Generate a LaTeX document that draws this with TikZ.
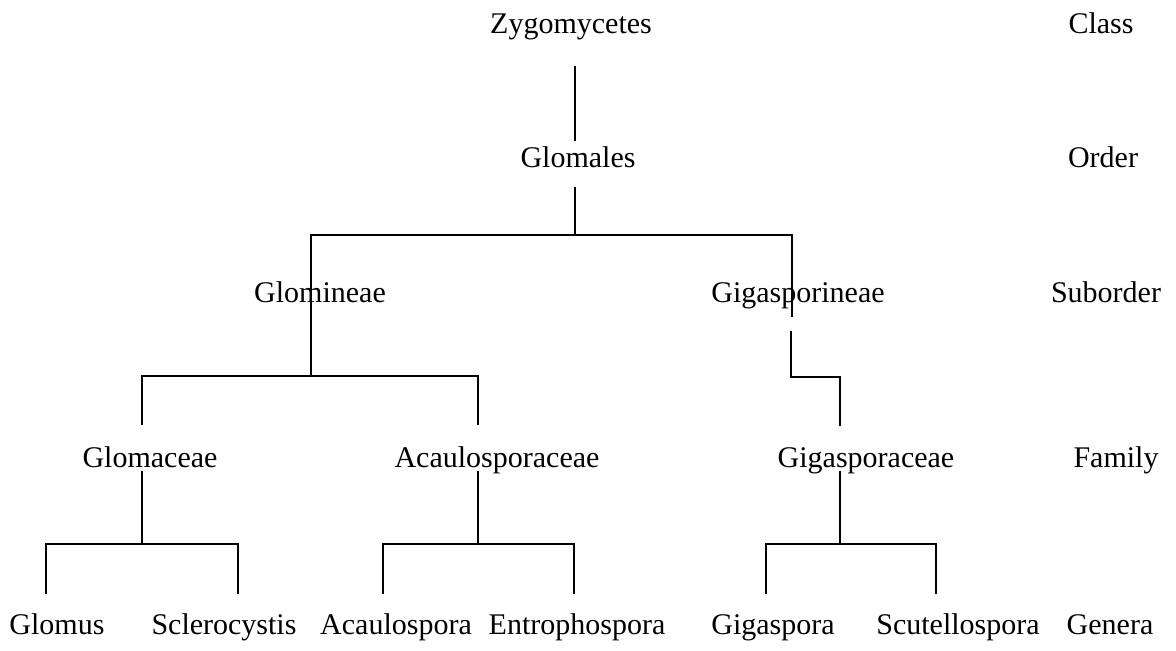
\documentclass[tikz,border=0pt]{standalone}
\usepackage{fontspec}
\setmainfont{Liberation Serif}
\usepackage{tikz}
\newcommand{\taxfont}{\fontsize{15}{18}\selectfont}
\tikzstyle{taxon} = [anchor=base, inner sep=0pt, font=\taxfont]
\tikzstyle{rank} = [anchor=base, inner sep=0pt, font=\taxfont]
\tikzstyle{branch} = [line width=0.9pt, line cap=rect]

\begin{document}
\begin{tikzpicture}[x=0.5pt, y=0.5pt]
\useasboundingbox (0,0) rectangle (1176,650);
% taxa
\node (zygo) [taxon] at (571,617) {Zygomycetes};
\node (glomales) [taxon] at (578,483) {Glomales};
\node (glomineae) [taxon] at (320,348) {Glomineae};
\node (gigasporineae) [taxon] at (798,348) {Gigasporineae};
\node (glomaceae) [taxon] at (150,183) {Glomaceae};
\node (acaulosporaceae) [taxon] at (497,183) {Acaulosporaceae};
\node (gigasporaceae) [taxon] at (866,183) {Gigasporaceae};
\node (glomus) [taxon] at (57,16) {Glomus};
\node (sclerocystis) [taxon] at (224,16) {Sclerocystis};
\node (acaulospora) [taxon] at (396,16) {Acaulospora};
\node (entrophospora) [taxon] at (577,16) {Entrophospora};
\node (gigaspora) [taxon] at (773,16) {Gigaspora};
\node (scutellospora) [taxon] at (958,16) {Scutellospora};
% ranks
\node (class) [rank] at (1101,617) {Class};
\node (order) [rank] at (1103,483) {Order};
\node (suborder) [rank] at (1106,348) {Suborder};
\node (family) [rank] at (1116,183) {Family};
\node (genera) [rank] at (1110,16) {Genera};
% branch ends
\coordinate (zygo-out) at (575,583);
\coordinate (glomales-in) at (575,510);
\coordinate (glomales-out) at (575,462);
\coordinate (glomineae-in) at (311,415);
\coordinate (glomineae-out) at (311,274);
\coordinate (gigasporineae-in) at (792,415);
\coordinate (gigasporineae-top) at (792,334);
\coordinate (gigasporineae-out) at (791,318);
\coordinate (gigasporineae-bend) at (840,273);
\coordinate (glomaceae-in) at (142,226);
\coordinate (acaulosporaceae-in) at (478,226);
\coordinate (gigasporaceae-in) at (840,225);
\coordinate (glomaceae-out) at (142,178);
\coordinate (acaulosporaceae-out) at (478,178);
\coordinate (gigasporaceae-out) at (840,178);
\coordinate (glomus-in) at (46,57);
\coordinate (sclerocystis-in) at (238,57);
\coordinate (acaulospora-in) at (383,57);
\coordinate (entrophospora-in) at (574,57);
\coordinate (gigaspora-in) at (766,57);
\coordinate (scutellospora-in) at (936,57);
% branches
\draw [branch] (zygo-out) -- (glomales-in);
\draw [branch] (glomales-out) |- (glomineae-in) -- (glomineae-out);
\draw [branch] (glomales-out) |- (gigasporineae-in) -- (gigasporineae-top);
\draw [branch] (glomineae-out) -| (glomaceae-in);
\draw [branch] (glomineae-out) -| (acaulosporaceae-in);
\draw [branch] (gigasporineae-out) |- (gigasporineae-bend) -- (gigasporaceae-in);
\draw [branch] (glomaceae-out) |- (glomus-in |- 0,106) -- (glomus-in);
\draw [branch] (glomaceae-out) |- (sclerocystis-in |- 0,106) -- (sclerocystis-in);
\draw [branch] (acaulosporaceae-out) |- (acaulospora-in |- 0,106) -- (acaulospora-in);
\draw [branch] (acaulosporaceae-out) |- (entrophospora-in |- 0,106) -- (entrophospora-in);
\draw [branch] (gigasporaceae-out) |- (gigaspora-in |- 0,106) -- (gigaspora-in);
\draw [branch] (gigasporaceae-out) |- (scutellospora-in |- 0,106) -- (scutellospora-in);
\end{tikzpicture}
\end{document}
